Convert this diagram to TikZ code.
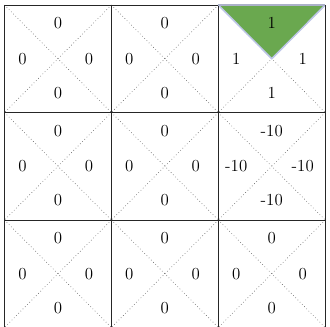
\documentclass[tikz,border=0pt]{standalone}
\definecolor{qgreen}{RGB}{106,168,79}
\definecolor{qedge}{RGB}{190,198,232}
\newcommand\qcell[3]{%
  \coordinate (c#1#2) at ({4.5+(#1+0.5)*\sx},{5+(#2+0.5)*\sy});
  \draw[diag] ({4.5+#1*\sx},{5+#2*\sy}) -- ({4.5+(#1+1)*\sx},{5+(#2+1)*\sy});
  \draw[diag] ({4.5+(#1+1)*\sx},{5+#2*\sy}) -- ({4.5+#1*\sx},{5+(#2+1)*\sy});
  \node[val] (t#1#2) at ({4.5+(#1+0.5)*\sx},{5+(#2+0.5)*\sy-35.5}) {#3};
  \node[val] (b#1#2) at ({4.5+(#1+0.5)*\sx},{5+(#2+0.5)*\sy+34}) {#3};
  \node[val] (l#1#2) at ({4.5+(#1+0.5)*\sx-35.5},{5+(#2+0.5)*\sy}) {#3};
  \node[val] (r#1#2) at ({4.5+(#1+0.5)*\sx+31}, {5+(#2+0.5)*\sy}) {#3};
}
\begin{document}
\begin{tikzpicture}[x=0.8pt,y=-0.8pt,
  val/.style={font=\fontsize{13.5}{15}\selectfont, inner sep=0pt},
  diag/.style={dotted, black!60, line width=0.5pt},
  gridline/.style={black!85, line width=0.65pt}]
\useasboundingbox (0,0) rectangle (330,326);
\def\sx{106.9}
\def\sy{107.5}
% highlighted quadrant
\fill[qgreen] ({4.5+2*\sx},5) -- ({4.5+3*\sx},5) -- ({4.5+2.5*\sx},{5+0.5*\sy}) -- cycle;
\qcell{0}{0}{0}
\qcell{1}{0}{0}
\qcell{2}{0}{1}
\qcell{0}{1}{0}
\qcell{1}{1}{0}
\qcell{2}{1}{-10}
\qcell{0}{2}{0}
\qcell{1}{2}{0}
\qcell{2}{2}{0}
\draw[draw=qedge, line width=1.2pt, line join=round] ({4.5+2*\sx},5) -- ({4.5+2.5*\sx},{5+0.5*\sy}) -- ({4.5+3*\sx},5);
% grid
\foreach \i in {0,1,2,3} {
  \draw[gridline] ({4.5+\i*\sx},5) -- ({4.5+\i*\sx},{5+3*\sy});
  \draw[gridline] (4.5,{5+\i*\sy}) -- ({4.5+3*\sx},{5+\i*\sy});
}
\draw[draw=qedge!70!gray, line width=1.2pt] ({4.5+2*\sx},5) -- ({4.5+3*\sx},5);
\end{tikzpicture}
\end{document}
